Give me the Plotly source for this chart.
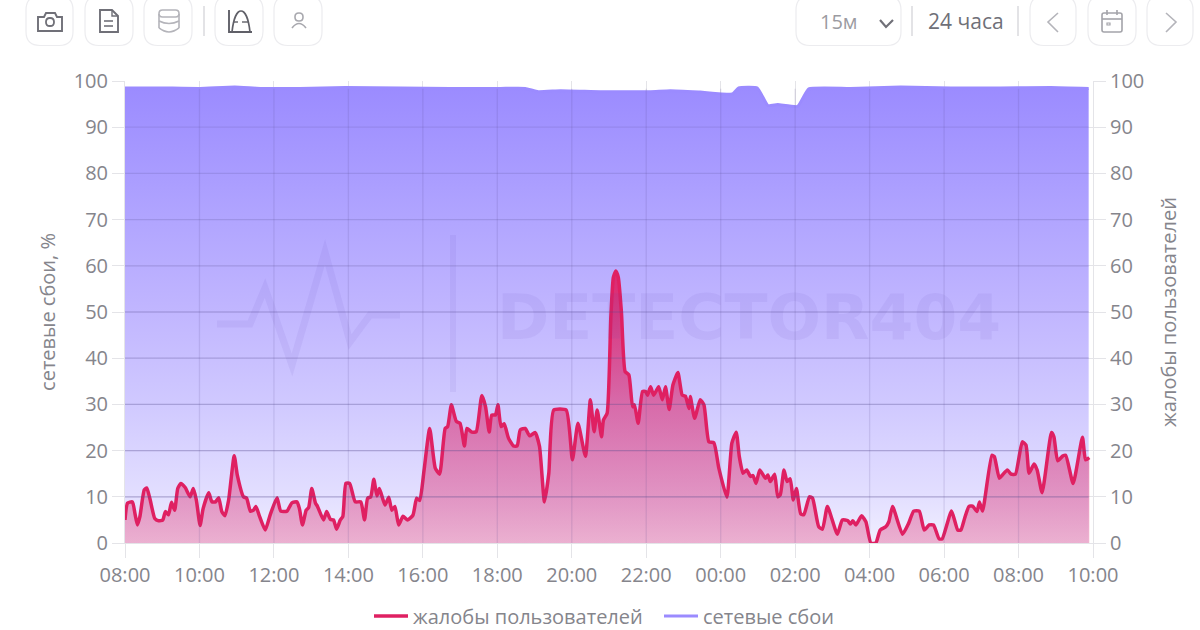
import plotly.graph_objects as go

# minutes since 08:00
complaint_minutes = [0,4,12,16,20,24,31,35,40,48,54,61,65,70,75,80,85,90,97,105,110,115,121,126,135,140,146,151,156,161,167,176,181,191,196,202,207,211,217,226,234,245,251,261,269,277,281,286,292,296,301,307,310,320,325,331,336,341,347,351,356,362,371,380,386,391,396,401,406,410,419,425,430,435,441,448,455,464,470,475,482,491,500,507,
 516,520,526,534,540,547,551,559,566,575,581,587,591,597,601,606,611,618,626,632,637,645,652,661,668,676,683,691,711,721,730,742,750,756,761,768,771,777,783,787,791,795,800,806,812,818,821,827,834,839,842,847,852,860,866,871,877,883,891,898,903,909,911,918,927,933,941,949,957,970,978,985,990,996,1002,1008,1012,1017,1023,1032,1036,
 1040,1047,1052,1056,1062,1067,1072,1077,1082,1089,1094,1103,1108,1118,1124,1132,1148,1156,1165,1169,1173,1178,1187,1194,1202,1210,1217,1226,1231,1237,1253,1263,1271,1280,1288,1296,1303,1312,1317,1332,1342,1347,1353,1360,1366,1373,1377,1382,1397,1401,1409,1414,1422,1428,1435,1446,1452,1457,1465,1470,1478,1493,1497,1503,1511,1516,1528,1543,1548,1554]
complaint_values = [5,8.6,8.9,6.4,3.9,5.7,11.5,11.9,9.7,5.3,4.8,5,6.8,6.1,8.8,7.1,11.8,12.9,12,10,11.8,9.3,3.8,7.5,10.9,8.9,8.9,9.8,6.8,5.9,9.3,18.9,14.7,10,9.7,6.9,7.1,7.9,5.7,2.8,6.1,9.8,6.9,6.9,8.7,8.9,7.5,3.9,7.1,7.7,11.8,8.6,8,5,6.8,5.1,5,3,5,5.7,12.9,12.9,8.9,8.9,5,9.7,10,13.8,10.2,11.8,8.2,9.9,7.1,7.9,3.9,5.8,5,6,9.7,9.2,15.8,24.8,16.2,14.9,
 24.8,25.2,29.9,26.3,25.9,21,24.8,24,24.1,31.9,29.5,24,27.7,27.7,29.9,25.2,25.8,22.7,21,21,24.5,24.8,23.2,23.9,20.9,8.9,15.1,28.8,28.8,18,25.9,18.8,31,24.1,28.8,23,26.6,28.1,49,57.5,58.9,57.5,50,37.1,36.4,29.5,29.9,25.9,32.8,32.8,32,33.8,32,33.8,31,33.8,28.9,34.2,36.9,32,31.8,29.1,31.7,27,31,29.9,21.9,21.7,16.2,9.9,21.6,24,18.7,15.1,15.8,14.4,14.6,12.9,15.8,14,14.7,
 13.3,14.9,10,10.4,15.8,13.3,13.9,9.3,11.8,6.3,6.1,10,9.7,3.5,3,7.9,1.9,5,4.8,4.1,4.8,3.9,5.9,4.6,0,0,2.8,3.5,4.6,7.9,1.9,4.3,6.9,6.9,2.8,3.9,3.9,0.9,0.9,6.9,2.8,2.8,5.3,7.9,8,6.8,8.9,6.9,19,18.7,14,14.7,15.8,14.9,14.9,21.9,21.2,15.1,17.1,15.8,10.9,23.9,23,17.8,18.8,19,12.9,22.9,18,18.5]

outage_minutes = [0,56,121,177,218,282,355,444,524,605,645,666,702,766,847,879,927,979,989,1019,1036,1052,1084,1102,1169,1250,1331,1411,1492,1553]
outage_values = [98.5,98.5,98.4,98.7,98.4,98.4,98.6,98.5,98.4,98.4,98.4,97.7,97.9,97.7,97.7,97.9,97.6,97.2,98.5,98.5,94.7,94.9,94.5,98.3,98.4,98.7,98.5,98.5,98.6,98.4]

x_ticks = [0,120,240,360,480,600,720,840,960,1080,1200,1320,1440,1560]
x_labels = ["08:00","10:00","12:00","14:00","16:00","18:00","20:00","22:00","00:00","02:00","04:00","06:00","08:00","10:00"]
y_ticks = list(range(0,101,10))

GRID = "#e4e4e8"
TXT = "#85858c"
FONT = "Open Sans, Noto Sans, sans-serif"
L, R, T, B = 125, 1093, 81, 543
H = 650   # page is taller than the window so that the legend box is not squeezed; the window shows 630
PH = H - T

def xp(x): return (x-L)/(R-L)
def yp(y): return (H-y)/PH
def P(*pts, close=False):
    s = "M " + " L ".join(f"{xp(a):.5f},{yp(b):.5f}" for a,b in pts)
    return s + (" Z" if close else "")
def shp(path, color="#77777f", w=1.8, fill=None):
    return dict(type="path", xref="paper", yref="paper", path=path, layer="above",
                line=dict(color=color, width=w), fillcolor=fill or "rgba(0,0,0,0)")
c = lambda a,b: f"{xp(a):.5f},{yp(b):.5f}"
def rrect(x0,y0,x1,y1,r):
    return (f"M {c(x0+r,y0)} L {c(x1-r,y0)} Q {c(x1,y0)} {c(x1,y0+r)} L {c(x1,y1-r)} Q {c(x1,y1)} {c(x1-r,y1)} "
            f"L {c(x0+r,y1)} Q {c(x0,y1)} {c(x0,y1-r)} L {c(x0,y0+r)} Q {c(x0,y0)} {c(x0+r,y0)} Z")
def curve(*seg):
    s = f"M {c(*seg[0])}"
    for ctrl,end in seg[1:]:
        s += f" Q {c(*ctrl)} {c(*end)}"
    return s

fig = go.Figure()
fig.add_trace(go.Scatter(x=outage_minutes, y=outage_values, showlegend=False, mode="none", fill="tozeroy",
    line=dict(shape="spline", smoothing=0.4),
    fillgradient=dict(type="vertical", start=0, stop=100, colorscale=[
        [0,"#f1efff"],[0.1,"#e3dfff"],[0.3,"#d0c9ff"],[0.5,"#c1b6ff"],[0.7,"#b1a5ff"],[1,"#9a8aff"]]),
    hoverinfo="skip", yaxis="y"))
fig.add_trace(go.Scatter(x=outage_minutes, y=outage_values, name="сетевые сбои", mode="lines",
    line=dict(color="#9b8bff", width=3, shape="spline", smoothing=0.4), hoverinfo="skip", yaxis="y"))
fig.add_trace(go.Scatter(x=complaint_minutes, y=complaint_values, showlegend=False, mode="none", fill="tozeroy",
    line=dict(shape="spline", smoothing=0.5),
    fillgradient=dict(type="vertical", start=0, stop=60, colorscale=[
        [0,"rgba(222,30,100,0.30)"],[0.5,"rgba(222,30,100,0.55)"],[1,"rgba(222,30,100,0.95)"]]),
    hoverinfo="skip", yaxis="y2"))
fig.add_trace(go.Scatter(x=complaint_minutes, y=complaint_values, name="жалобы пользователей", mode="lines",
    line=dict(color="#df2062", width=3.5, shape="spline", smoothing=0.5), hoverinfo="skip", yaxis="y2"))

shapes = []
for v in y_ticks[1:-1]:
    a = 0.42 - 0.3*v/100
    shapes.append(dict(type="line", xref="x", yref="y", x0=0, x1=outage_minutes[-1], y0=v, y1=v, layer="above",
                       line=dict(color=f"rgba(85,75,140,{a:.2f})", width=1.3)))
for t in x_ticks[1:-1]:
    shapes.append(dict(type="line", xref="x", yref="y", x0=t, x1=t, y0=0, y1=98.3, layer="above",
                       line=dict(color="rgba(85,75,140,0.15)", width=1.3)))
WM = "rgba(80,60,170,0.07)"
shapes.append(shp(P((217,324),(250,324),(265,288),(292,365),(325,252),(350,342),(370,315),(400,315)), WM, 7))
shapes.append(shp(P((453,235),(453,392)), WM, 6))

BORDER = "#ececef"
for x0,x1 in [(26,73),(85,133),(144,192),(215,263),(274,322),(796,901),(1030,1076),(1088,1136),(1147,1193)]:
    shapes.append(shp(rrect(x0,-4,x1,45.5,14), BORDER, 1.2, "#ffffff"))
for x in (204,912,1018):
    shapes.append(shp(P((x,6),(x,36)), "#dcdce0", 1.6))
# camera
shapes.append(shp(P((38,17),(44,17),(46,13),(55,13),(57,17),(62,17),(62,31),(38,31),close=True), "#707078", 1.9))
shapes.append(shp(rrect(46,18,54,26,3.8), "#707078", 1.8))
# document
shapes.append(shp(P((100,10),(112,10),(118,16),(118,32),(100,32),close=True), "#707078", 1.9))
shapes.append(shp(P((112,10),(112,16),(118,16)), "#707078", 1.4))
shapes.append(shp(P((104,21),(113,21)), "#707078", 1.6))
shapes.append(shp(P((104,26),(113,26)), "#707078", 1.6))
# database
DB = "#b4b4ba"
shapes.append(shp(rrect(159,10,179,17,3.5), DB, 1.6))
shapes.append(shp(P((159,14),(159,28)), DB, 1.6))
shapes.append(shp(P((179,14),(179,28)), DB, 1.6))
shapes.append(shp(curve((159,21),((169,26),(179,21))), DB, 1.6))
shapes.append(shp(curve((159,28),((169,36),(179,28))), DB, 1.6))
# chart
shapes.append(shp(P((229,10),(229,32),(252,32)), "#606068", 1.9))
shapes.append(shp(f"M {c(232,32)} C {c(235,4)} {c(247,4)} {c(250,32)}", "#606068", 1.7))
shapes.append(shp(P((234,22),(238,22)), "#606068", 1.4))
shapes.append(shp(P((242,22),(248,22)), "#606068", 1.4))
# person
shapes.append(shp(rrect(295,13,303,21,3.8), "#a8a8ae", 1.6))
shapes.append(shp(curve((292,28),((299,19),(306,28))), "#a8a8ae", 1.6))
# dropdown chevron
shapes.append(shp(P((880,20),(886,27),(893,20)), "#707078", 2.2))
# prev / next
shapes.append(shp(P((1058,13),(1048,22),(1058,32)), "#b4b4ba", 1.6))
shapes.append(shp(P((1166,13),(1176,22),(1166,32)), "#b4b4ba", 1.6))
# calendar
shapes.append(shp(rrect(1102,13,1122,32,2), "#a4a4aa", 1.6))
shapes.append(shp(P((1102,19),(1122,19)), "#a4a4aa", 1.6))
shapes.append(shp(P((1107,10),(1107,15)), "#a4a4aa", 1.6))
shapes.append(shp(P((1117,10),(1117,15)), "#a4a4aa", 1.6))
shapes.append(shp(P((1107,23),(1110,23),(1110,25),(1107,25),close=True), "#a4a4aa", 1.2))

ann = [
    dict(text="DETECTOR404", xref="paper", yref="paper", x=xp(749), y=yp(317), xanchor="center", yanchor="middle",
         showarrow=False, font=dict(family="DejaVu Sans", size=63, color="rgba(80,60,170,0.07)", weight="bold")),
    dict(text="15м", xref="paper", yref="paper", x=xp(839), y=yp(21), xanchor="center", yanchor="middle",
         showarrow=False, font=dict(family=FONT, size=20, color="#9b9ba1")),
    dict(text="24 часа", xref="paper", yref="paper", x=xp(966), y=yp(21), xanchor="center", yanchor="middle",
         showarrow=False, font=dict(family=FONT, size=21, color="#6f7078")),
]

dom = [yp(B), 1]
axis_common = dict(showgrid=True, gridcolor=GRID, gridwidth=1, zeroline=False, ticks="outside", ticklen=12,
                   tickcolor=GRID, tickfont=dict(size=20, color=TXT), range=[0,100], tickvals=y_ticks,
                   showline=True, linecolor=GRID, linewidth=1, domain=dom, automargin=False)

fig.update_layout(
    width=1200, height=H, autosize=False,
    margin=dict(l=L, r=1200-R, t=T, b=0, autoexpand=False),
    paper_bgcolor="white", plot_bgcolor="white",
    font=dict(family=FONT, color=TXT),
    xaxis=dict(range=[0,1560], tickvals=x_ticks, ticktext=x_labels, showgrid=True, gridcolor=GRID, zeroline=False,
               ticks="outside", ticklen=14, tickcolor=GRID, tickfont=dict(size=20, color=TXT),
               showline=True, linecolor=GRID, tickangle=0, anchor="y"),
    yaxis=dict(title=dict(text="сетевые сбои, %", font=dict(size=20, color=TXT), standoff=12), side="left", **axis_common),
    yaxis2=dict(title=dict(text="жалобы пользователей", font=dict(size=20, color=TXT), standoff=18),
                side="right", overlaying="y", anchor="x", **axis_common),
    legend=dict(orientation="h", x=xp(369), xanchor="left", y=yp(616), yanchor="middle",
                font=dict(size=20, color=TXT), traceorder="reversed", itemwidth=34, bgcolor="rgba(0,0,0,0)",
                entrywidth=241, entrywidthmode="pixels"),
    shapes=shapes, annotations=ann, showlegend=True,
)
fig.write_html("out.html", post_script="document.body.style.margin='0';document.documentElement.style.overflow='hidden';document.body.style.overflow='hidden';",
               config=dict(displayModeBar=False))
